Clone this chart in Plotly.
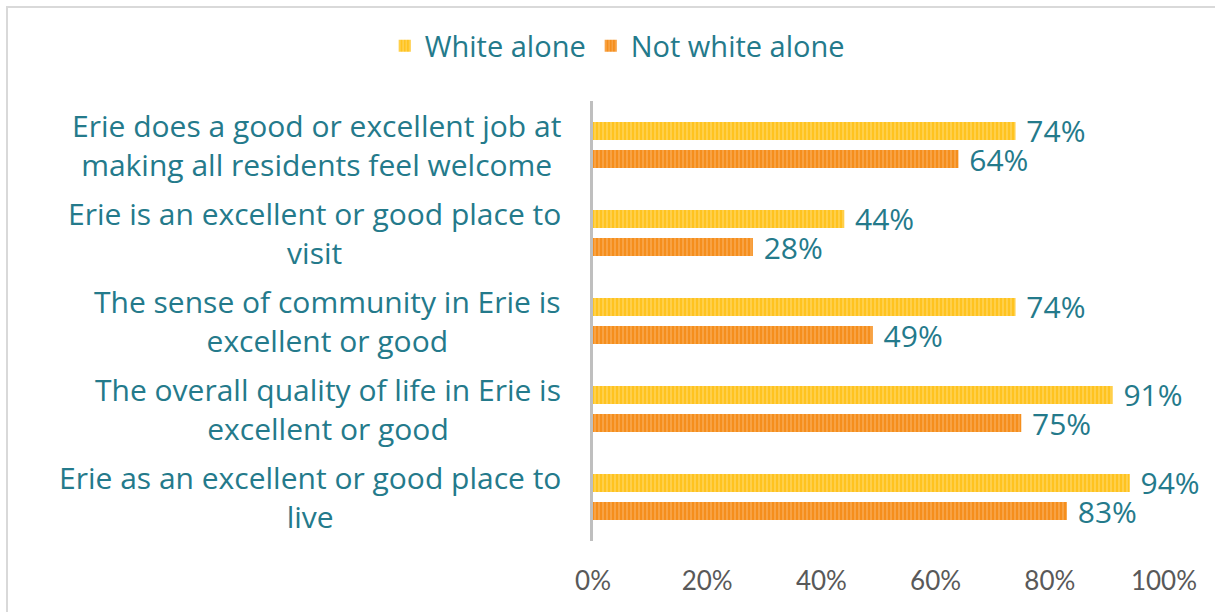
import plotly.graph_objects as go

categories = [
    "Erie does a good or excellent job at<br>making all residents feel welcome",
    "Erie is an excellent or good place to<br>visit",
    "The sense of community in Erie is<br>excellent or good",
    "The overall quality of life in Erie is<br>excellent or good",
    "Erie as an excellent or good place to<br>live",
]
white_alone = [0.74, 0.44, 0.74, 0.91, 0.94]
not_white_alone = [0.64, 0.28, 0.49, 0.75, 0.83]
x_ticks = [0, 0.2, 0.4, 0.6, 0.8, 1.0]
x_tick_labels = ["0%", "20%", "40%", "60%", "80%", "100%"]

TEAL = "#247A8B"
FONT = "Open Sans"

W, H = 1215, 612
L, R, T, B = 593, 51, 101, 71
pw, ph = W - L - R, H - T - B


def px_to_paper_x(px):
    return (px - L) / pw


def px_to_paper_y(py):
    return 1 - (py - T) / ph


def bar_trace(name, values, color, stripe):
    return go.Bar(
        y=categories,
        x=values,
        name=name,
        orientation="h",
        marker=dict(
            color=color,
            line=dict(width=0),
            pattern=dict(shape="|", fgcolor=stripe, size=4, solidity=0.4, fillmode="overlay"),
        ),
        text=values,
        texttemplate=" %{x:.0%}",
        textposition="outside",
        constraintext="none",
        cliponaxis=False,
        textfont=dict(family=FONT, size=30, color=TEAL),
    )


fig = go.Figure()
fig.add_trace(bar_trace("White alone", white_alone, "#FFC31F", "#FFE28C"))
fig.add_trace(bar_trace("Not white alone", not_white_alone, "#F58E1C", "#FBC07F"))

# category labels: lines centred, block right-aligned next to the axis
for cat in categories:
    fig.add_annotation(
        x=px_to_paper_x(563), xref="paper", xanchor="right",
        y=cat, yref="y", yanchor="middle",
        text=cat, align="center", showarrow=False,
        font=dict(family=FONT, size=30, color=TEAL),
    )

# outer frame (right and bottom edges fall outside the picture)
fig.add_shape(
    type="rect", xref="paper", yref="paper",
    x0=px_to_paper_x(7), x1=px_to_paper_x(1230),
    y0=px_to_paper_y(630), y1=px_to_paper_y(7),
    line=dict(color="#D9D9D9", width=2), fillcolor="rgba(0,0,0,0)", layer="below",
)

fig.update_layout(
    width=W,
    height=H,
    margin=dict(l=L, r=R, t=T, b=B),
    paper_bgcolor="white",
    plot_bgcolor="white",
    barmode="group",
    bargap=0.36,
    bargroupgap=0.36,
    showlegend=True,
    legend=dict(
        orientation="h", xref="container", yref="container",
        x=0.508, xanchor="center", y=0.925, yanchor="middle",
        font=dict(family=FONT, size=29, color=TEAL),
        itemsizing="constant", itemwidth=30,
    ),
    xaxis=dict(
        range=[0, 1],
        tickvals=x_ticks,
        ticktext=x_tick_labels,
        showgrid=False,
        zeroline=False,
        showline=False,
        ticks="",
        ticklabelstandoff=22,
        tickfont=dict(family="Lato", size=26, color="#595959"),
    ),
    yaxis=dict(
        autorange="reversed",
        showticklabels=False,
        showgrid=False,
        zeroline=False,
        showline=True,
        linecolor="#BFBFBF",
        linewidth=3,
        ticks="",
    ),
)

fig.write_html(
    "out.html",
    config={"displayModeBar": False},
    post_script="document.body.style.margin='0';document.body.style.overflow='hidden';",
)
